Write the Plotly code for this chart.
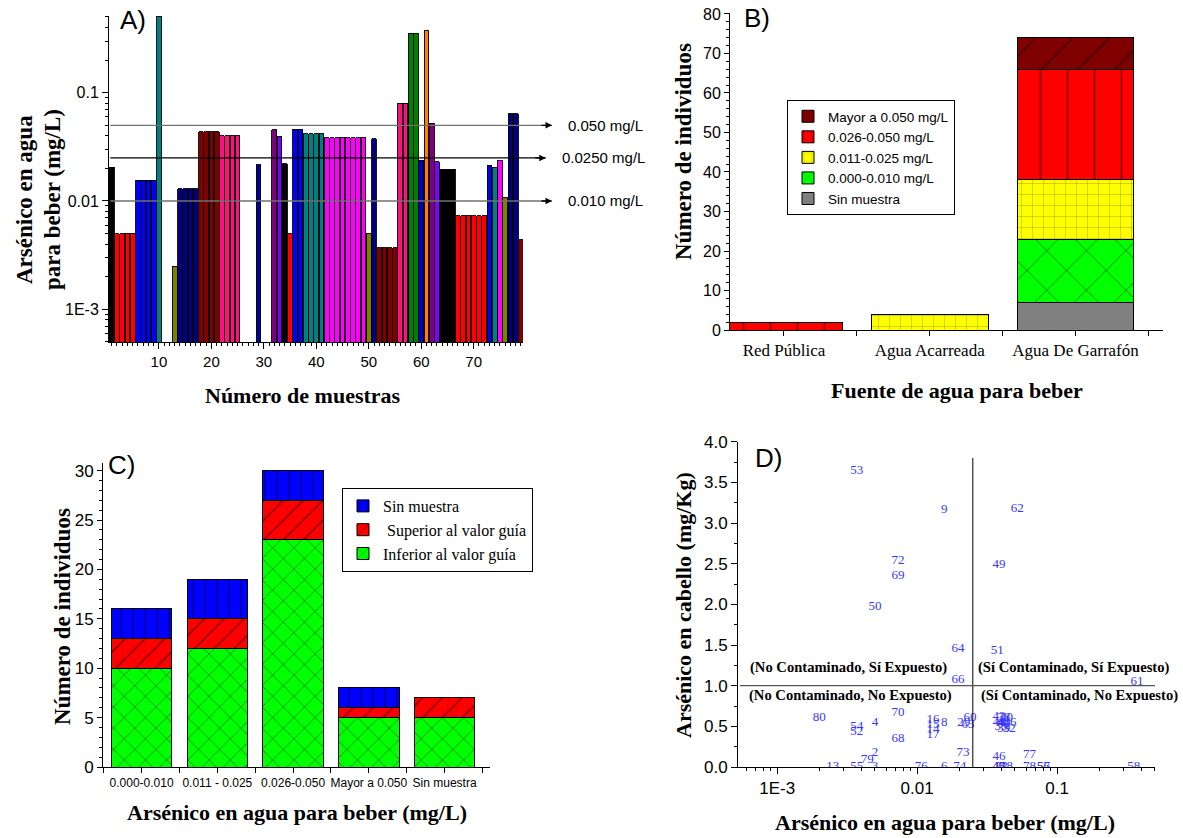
import math
import plotly.graph_objects as go

W, H = 1183, 838
SERIF = "Liberation Serif"
SANS = "Liberation Sans"

# ---------------- Panel A data ----------------
sample_ids = list(range(1, 81))
water_as = [0.0205, 0.005, 0.005, 0.005, 0.005, 0.0156, 0.0156, 0.0156, 0.0156, 0.51,
            None, None, 0.0025, 0.013, 0.013, 0.013, 0.013, 0.0436, 0.0436, 0.0436,
            0.0436, 0.040, 0.040, 0.040, 0.040, None, None, None, 0.0215, None,
            None, 0.0456, 0.0398, 0.0221, 0.005, 0.0462, 0.0462, 0.0416, 0.0416, 0.0416,
            0.0416, 0.0385, 0.0385, 0.0385, 0.0385, 0.0385, 0.0385, 0.0385, 0.0385, 0.005,
            0.0374, 0.0037, 0.0037, 0.0037, 0.0037, 0.080, 0.080, 0.353, 0.353, 0.0239,
            0.373, 0.052, 0.0231, 0.0196, 0.0196, 0.0196, 0.0073, 0.0073, 0.0073, 0.0073,
            0.0073, 0.0073, 0.0213, 0.0202, 0.0237, 0.0107, 0.0636, 0.0636, 0.0044, 0.0020]
guide_values = [0.050, 0.025, 0.010]
guide_labels = ["0.050 mg/L", "0.0250 mg/L", "0.010 mg/L"]

# colour runs for the bars of panel A (style)
color_runs = [("#000000", 1), ("#FF0000", 4), ("#0000FF", 4), ("#008080", 1), ("#FFFFFF", 2),
              ("#808000", 1), ("#000080", 4), ("#800000", 4), ("#FF1080", 4), ("#FFFFFF", 3),
              ("#0000A0", 1), ("#FFFFFF", 2), ("#800080", 1), ("#8000FF", 1), ("#000000", 1),
              ("#FF0000", 1), ("#0000FF", 2), ("#008080", 4), ("#FF00FF", 8), ("#808000", 1),
              ("#000080", 1), ("#800000", 4), ("#FF1080", 2), ("#008000", 2), ("#0000CD", 1),
              ("#FF8000", 1), ("#800080", 1), ("#8000FF", 1), ("#000000", 3), ("#FF0000", 6),
              ("#0000FF", 1), ("#008080", 1), ("#FF00FF", 1), ("#808000", 1), ("#000080", 2),
              ("#800000", 2)]
bar_colors = []
for c, n in color_runs:
    bar_colors += [c] * n

# ---------------- Panel B data ----------------
b_sources = ["Red Pública", "Agua Acarreada", "Agua De Garrafón"]
b_sin_muestra = [0, 0, 7]
b_000_010 = [0, 0, 16]
b_011_025 = [0, 4, 15]
b_026_050 = [2, 0, 28]
b_mayor_050 = [0, 0, 8]

# ---------------- Panel C data ----------------
c_cats = ["0.000-0.010", "0.011 - 0.025", "0.026-0.050", "Mayor a 0.050", "Sin muestra"]
c_inferior = [10, 12, 23, 5, 5]
c_superior = [3, 3, 4, 1, 2]
c_sin_muestra = [3, 4, 3, 2, 0]

# ---------------- Panel D data ----------------
d_ids = [53, 9, 62, 72, 69, 50, 49, 64, 51, 66, 61, 80, 54, 52, 4, 70, 68, 2, 79,
         13, 55, 3, 76, 6, 74, 73, 16, 15, 14, 17, 8, 29, 60, 63,
         20, 38, 42, 41, 44, 36, 40, 33, 39, 32, 46, 18, 22, 47, 48, 77, 78, 56, 57, 58]
d_hair = [3.64, 3.16, 3.17, 2.54, 2.35, 1.97, 2.49, 1.45, 1.43, 1.07, 1.05, 0.61, 0.50, 0.43, 0.55, 0.67, 0.35, 0.17, 0.09,
          0.0, 0.0, 0.0, 0.0, 0.0, 0.0, 0.17, 0.58, 0.52, 0.46, 0.40, 0.55, 0.55, 0.61, 0.52,
          0.60, 0.61, 0.62, 0.57, 0.55, 0.55, 0.53, 0.50, 0.47, 0.47, 0.13, 0.0, 0.0, 0.0, 0.0, 0.15, 0.0, 0.0, 0.0, 0.0]
d_water = [water_as[i - 1] for i in d_ids]
d_water_limit = 0.025
d_hair_limit = 1.0


def nz(v):
    return [x if x else None for x in v]


def px_x(p):
    return p / W


def px_y(p):
    return 1 - p / H


fig = go.Figure()

# Panel A
fig.add_trace(go.Bar(x=sample_ids, y=water_as, xaxis="x", yaxis="y", width=0.9,
                     marker=dict(color=bar_colors, line=dict(color="black", width=0.9)),
                     showlegend=False))

# Panel B (stacked)
b_series = [("Sin muestra", b_sin_muestra, "#808080", "", 10),
            ("0.000-0.010 mg/L", b_000_010, "#00FF00", "x", 28),
            ("0.011-0.025 mg/L", b_011_025, "#FFFF00", "+", 11),
            ("0.026-0.050 mg/L", b_026_050, "#FF0000", "|", 27),
            ("Mayor a 0.050 mg/L", b_mayor_050, "#800000", "/", 26)]
for name, vals, col, shp, sz in b_series:
    fig.add_trace(go.Bar(x=[0, 1, 2], y=nz(vals), name=name, xaxis="x2", yaxis="y2", width=0.8,
                         legend="legend",
                         marker=dict(color=col, line=dict(color="black", width=1),
                                     pattern=dict(shape=shp, fgcolor="black", bgcolor=col,
                                                  size=sz, solidity=0.06, fillmode="overlay"))))

# Panel C (stacked)
c_series = [("Inferior al valor guía", c_inferior, "#00FF00", "x", 15),
            (" Superior al valor guía", c_superior, "#FF0000", "/", 14),
            ("Sin muestra", c_sin_muestra, "#0000FF", "|", 12)]
for name, vals, col, shp, sz in c_series:
    fig.add_trace(go.Bar(x=list(range(len(c_cats))), y=nz(vals), name=name, xaxis="x3", yaxis="y3",
                         width=0.8, legend="legend2",
                         marker=dict(color=col, line=dict(color="black", width=1),
                                     pattern=dict(shape=shp, fgcolor="black", bgcolor=col,
                                                  size=sz, solidity=0.1, fillmode="overlay"))))

# Panel D
fig.add_trace(go.Scatter(x=d_water, y=d_hair, text=[str(i) for i in d_ids], mode="text",
                         textposition="middle center", xaxis="x4", yaxis="y4",
                         textfont=dict(family=SERIF, size=13, color="#3535FF"),
                         cliponaxis=True, showlegend=False))

axis_common = dict(showline=True, linecolor="black", linewidth=1, showgrid=False, zeroline=False,
                   ticks="outside", tickcolor="black", mirror=False, automargin=False)

A_YR = [-3.302, -0.292]
D_XR = [-3.28, -0.30]

log_minor = [m * 10 ** e for e in range(-4, 1) for m in range(2, 10)]

fig.update_layout(
    width=W, height=H, margin=dict(l=0, r=0, t=0, b=0, autoexpand=False),
    paper_bgcolor="white", plot_bgcolor="white",
    barmode="stack", bargap=0.1,
    font=dict(family=SANS, color="black"),
    xaxis=dict(axis_common, domain=[px_x(109), px_x(523)], anchor="y", range=[0.48, 79.4],
               tickmode="array", tickvals=[10, 20, 30, 40, 50, 60, 70], ticklen=6,
               tickfont=dict(family=SANS, size=15),
               minor=dict(tickmode="linear", tick0=0, dtick=1, ticks="outside", ticklen=3, tickcolor="black")),
    yaxis=dict(axis_common, type="log", domain=[px_y(342), px_y(16)], anchor="x", range=A_YR,
               tickmode="array", tickvals=[0.001, 0.01, 0.1], ticktext=["1E-3", "0.01", "0.1"], ticklen=6,
               tickfont=dict(family=SANS, size=16),
               minor=dict(tickmode="array", tickvals=log_minor, ticks="outside", ticklen=3, tickcolor="black")),
    xaxis2=dict(axis_common, domain=[px_x(730), px_x(1163)], anchor="y2", range=[-0.37, 2.6],
                tickmode="array", tickvals=[0, 1, 2], ticktext=b_sources, ticklen=5,
                tickfont=dict(family=SERIF, size=17),
                minor=dict(tickmode="array", tickvals=[0.5, 1.5, 2.5], ticks="outside", ticklen=5, tickcolor="black")),
    yaxis2=dict(axis_common, domain=[px_y(330), px_y(13)], anchor="x2", range=[0, 80.25],
                tickmode="linear", tick0=0, dtick=10, ticklen=5, tickfont=dict(family=SANS, size=16),
                minor=dict(tickmode="linear", tick0=0, dtick=2, ticks="outside", ticklen=3, tickcolor="black")),
    xaxis3=dict(axis_common, domain=[px_x(103), px_x(490)], anchor="y3", range=[-0.51, 4.6],
                tickmode="array", tickvals=list(range(len(c_cats))), ticktext=c_cats, ticklen=5,
                tickfont=dict(family=SANS, size=12),
                minor=dict(tickmode="array", tickvals=[-0.5, 0.5, 1.5, 2.5, 3.5, 4.5], ticks="outside",
                           ticklen=5, tickcolor="black")),
    yaxis3=dict(axis_common, domain=[px_y(767), px_y(463)], anchor="x3", range=[0, 30.78],
                tickmode="linear", tick0=0, dtick=5, ticklen=5, tickfont=dict(family=SANS, size=17),
                minor=dict(tickmode="linear", tick0=0, dtick=1, ticks="outside", ticklen=3, tickcolor="black")),
    xaxis4=dict(axis_common, type="log", domain=[px_x(738), px_x(1155)], anchor="y4", range=D_XR,
                tickmode="array", tickvals=[0.001, 0.01, 0.1], ticktext=["1E-3", "0.01", "0.1"], ticklen=6,
                tickfont=dict(family=SANS, size=17),
                minor=dict(tickmode="array", tickvals=log_minor, ticks="outside", ticklen=3, tickcolor="black")),
    yaxis4=dict(axis_common, domain=[px_y(767), px_y(441.7)], anchor="x4", range=[0, 4.0],
                tickmode="linear", tick0=0, dtick=0.5, tickformat=".1f", ticklen=6,
                tickfont=dict(family=SANS, size=17),
                minor=dict(tickmode="linear", tick0=0, dtick=0.25, ticks="outside", ticklen=3, tickcolor="black")),
    legend=dict(x=px_x(787), y=px_y(100), xanchor="left", yanchor="top", bordercolor="black", borderwidth=1,
                bgcolor="white", font=dict(family=SANS, size=13.5), traceorder="reversed", tracegroupgap=0),
    legend2=dict(x=px_x(342), y=px_y(488), xanchor="left", yanchor="top", bordercolor="black", borderwidth=1,
                 bgcolor="white", font=dict(family=SERIF, size=16), traceorder="reversed", tracegroupgap=0),
)

shapes = []
annotations = []

# Panel A guide lines with arrows
for v, lab, col in zip(guide_values, guide_labels, ["#707070", "#000000", "#707070"]):
    fy = (math.log10(v) - A_YR[0]) / (A_YR[1] - A_YR[0])
    x_end = 1.07 if col != "#000000" else 1.055
    shapes.append(dict(type="line", xref="x domain", yref="y domain", x0=0.003, x1=x_end, y0=fy, y1=fy,
                       line=dict(color=col, width=1.3)))
    annotations.append(dict(xref="x domain", yref="y domain", x=x_end, y=fy, ax=-12, ay=0, text="",
                            showarrow=True, arrowhead=2, arrowsize=1, arrowwidth=1.3, arrowcolor="black"))
    annotations.append(dict(xref="x domain", yref="y domain", x=x_end + 0.035, y=fy, text=lab,
                            showarrow=False, xanchor="left", yanchor="middle",
                            font=dict(family=SANS, size=15)))

# Panel D quadrant lines
fx = (math.log10(d_water_limit) - D_XR[0]) / (D_XR[1] - D_XR[0])
shapes.append(dict(type="line", xref="x4 domain", yref="paper", x0=fx, x1=fx, y0=px_y(767), y1=px_y(458),
                   line=dict(color="black", width=1)))
shapes.append(dict(type="line", xref="x4 domain", yref="y4", x0=0.005, x1=1.0, y0=d_hair_limit, y1=d_hair_limit,
                   line=dict(color="#555555", width=1.2)))

quad = [("(No Contaminado, Sí Expuesto)", 848, 667), ("(No Contaminado, No Expuesto)", 851, 695),
        ("(Sí Contaminado, Sí Expuesto)", 1074, 667), ("(Sí Contaminado, No Expuesto)", 1079, 695)]
for t, x, y in quad:
    annotations.append(dict(xref="paper", yref="paper", x=px_x(x), y=px_y(y), text="<b>%s</b>" % t,
                            showarrow=False, xanchor="center", yanchor="middle",
                            font=dict(family=SERIF, size=14.6)))

# panel letters
for t, x, y in [("A)", 133, 20), ("B)", 757, 18), ("C)", 122, 465), ("D)", 768, 458)]:
    annotations.append(dict(xref="paper", yref="paper", x=px_x(x), y=px_y(y), text=t, showarrow=False,
                            xanchor="center", yanchor="middle", font=dict(family=SANS, size=26)))

# axis titles
titles = [("<b>Arsénico en agua</b>", 25, 200, -90, 23),
          ("<b>para beber (mg/L)</b>", 53, 200, -90, 23),
          ("<b>Número de muestras</b>", 303, 395, 0, 22),
          ("<b>Número de individuos</b>", 683, 152, -90, 23),
          ("<b>Fuente de agua para beber</b>", 957, 390, 0, 22),
          ("<b>Número de individuos</b>", 62, 617, -90, 23),
          ("<b>Arsénico en agua para beber (mg/L)</b>", 297, 812, 0, 22),
          ("<b>Arsénico en cabello (mg/Kg)</b>", 683, 605, -90, 22),
          ("<b>Arsénico en agua para beber (mg/L)</b>", 945, 822, 0, 22)]
for t, x, y, ang, sz in titles:
    annotations.append(dict(xref="paper", yref="paper", x=px_x(x), y=px_y(y), text=t, showarrow=False,
                            xanchor="center", yanchor="middle",
                            textangle=ang, font=dict(family=SERIF, size=sz)))

fig.update_layout(shapes=shapes, annotations=annotations)
fig.write_html("out.html", config={"displayModeBar": False},
               post_script="document.body.style.margin='0';document.body.style.overflow='hidden';")
